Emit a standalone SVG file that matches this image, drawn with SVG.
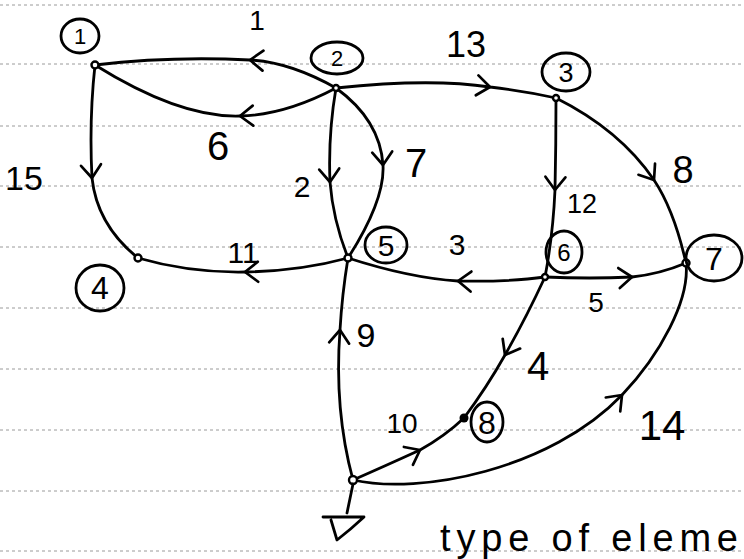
<svg xmlns="http://www.w3.org/2000/svg" width="744" height="559" viewBox="0 0 744 559">
<style>
.rule{stroke:#9a9a9a;stroke-width:1;stroke-dasharray:3 3;fill:none}
.edge{stroke:#000;stroke-width:2.8;fill:none;stroke-linecap:round;marker-mid:url(#chev)}
.ring{stroke:#000;stroke-width:2.8;fill:none}
.dot{stroke:#000;stroke-width:2.4;fill:#fff}
.num{font-family:"Liberation Sans",Arial,sans-serif;fill:#000;text-anchor:middle}
.lbl{font-family:"Liberation Sans",Arial,sans-serif;fill:#000;text-anchor:middle}
.gnd{stroke:#000;stroke-width:2.8;fill:none;stroke-linecap:round;stroke-linejoin:round}
</style>
<defs>
<marker id="chev" viewBox="-18 -14 22 28" refX="0" refY="0" markerWidth="22" markerHeight="28" markerUnits="userSpaceOnUse" orient="auto">
<path d="M-13,-10 L0,0 L-13,10" fill="none" stroke="#000" stroke-width="2.7" stroke-linecap="round" stroke-linejoin="round"/>
</marker>
</defs>
<rect width="744" height="559" fill="#fff"/>
<g id="ruled-lines">
<line class="rule" x1="0" y1="5" x2="744" y2="5"/>
<line class="rule" x1="0" y1="64" x2="744" y2="64"/>
<line class="rule" x1="0" y1="126" x2="744" y2="126"/>
<line class="rule" x1="0" y1="186" x2="744" y2="186"/>
<line class="rule" x1="0" y1="247" x2="744" y2="247"/>
<line class="rule" x1="0" y1="308" x2="744" y2="308"/>
<line class="rule" x1="0" y1="369" x2="744" y2="369"/>
<line class="rule" x1="0" y1="430" x2="744" y2="430"/>
<line class="rule" x1="0" y1="491" x2="744" y2="491"/>
<line class="rule" x1="0" y1="551" x2="744" y2="551"/>
</g>
<g id="connectors">
<path id="e1" class="edge" d="M336,88 Q290,62 250,60 Q170,56 95,65"/>
<path id="e6" class="edge" d="M336,88 Q285,115 240,116 Q180,118 95,65"/>
<path id="e13" class="edge" d="M336,88 Q430,78 490,87 Q525,91 556,98"/>
<path id="e15" class="edge" d="M95,65 Q89,120 92,178 Q97,225 138,258"/>
<path id="e2" class="edge" d="M336,88 Q328,135 330,182 Q333,220 348,258"/>
<path id="e7" class="edge" d="M336,88 Q380,120 383,165 Q385,200 348,258"/>
<path id="e11" class="edge" d="M348,258 Q300,271 245,272 Q190,273 138,258"/>
<path id="e12" class="edge" d="M556,98 Q556,145 555,190 Q553,235 545,277"/>
<path id="e8" class="edge" d="M556,98 Q620,130 654,180 Q674,210 686,263"/>
<path id="e3" class="edge" d="M545,277 Q510,282 458,281 Q410,278 348,258"/>
<path id="e5" class="edge" d="M545,277 Q590,279 632,277 Q660,274 686,263"/>
<path id="e4" class="edge" d="M545,277 Q526,318 505,355 Q487,387 464,418"/>
<path id="e9" class="edge" d="M353,480 Q334,410 340,330 Q342,295 348,258"/>
<path id="e10" class="edge" d="M353,480 Q385,466 420,450 Q445,436 464,418"/>
<path id="e14" class="edge" d="M353,480 C420,495 550,470 622,395 C660,355 690,300 686,263"/>
<text class="lbl" x="257" y="30" font-size="28">1</text>
<text class="lbl" x="218" y="160" font-size="40">6</text>
<text class="lbl" x="24" y="190" font-size="34">15</text>
<text class="lbl" x="302" y="197" font-size="30">2</text>
<text class="lbl" x="243" y="263" font-size="30">11</text>
<text class="lbl" x="466" y="57" font-size="36">13</text>
<text class="lbl" x="416" y="177" font-size="40">7</text>
<text class="lbl" x="582" y="213" font-size="27">12</text>
<text class="lbl" x="683" y="183" font-size="38">8</text>
<text class="lbl" x="457" y="255" font-size="30">3</text>
<text class="lbl" x="596" y="312" font-size="28">5</text>
<text class="lbl" x="538" y="380" font-size="40">4</text>
<text class="lbl" x="366" y="347" font-size="34">9</text>
<text class="lbl" x="402" y="433" font-size="28">10</text>
<text class="lbl" x="662" y="440" font-size="42">14</text>
</g>
<g id="node1"><circle class="dot" cx="95" cy="65" r="3.5"/><ellipse class="ring" cx="80" cy="36" rx="19" ry="17"/><text class="num" x="80" y="44" font-size="22">1</text></g>
<g id="node2"><circle class="dot" cx="336" cy="88" r="3"/><ellipse class="ring" cx="337" cy="58" rx="26" ry="16"/><text class="num" x="337" y="66" font-size="22">2</text></g>
<g id="node3"><circle class="dot" cx="556" cy="98" r="3"/><ellipse class="ring" cx="566" cy="72" rx="24" ry="19"/><text class="num" x="566" y="82" font-size="27">3</text></g>
<g id="node4"><circle class="dot" cx="138" cy="258" r="3.5"/><ellipse class="ring" cx="100" cy="288" rx="24" ry="23"/><text class="num" x="100" y="299" font-size="32">4</text></g>
<g id="node5"><circle class="dot" cx="348" cy="258" r="3.5"/><ellipse class="ring" cx="386" cy="245" rx="21" ry="18"/><text class="num" x="386" y="256" font-size="30">5</text></g>
<g id="node6"><circle class="dot" cx="545" cy="277" r="3"/><ellipse class="ring" cx="564" cy="252" rx="18" ry="21"/><text class="num" x="564" y="261" font-size="24">6</text></g>
<g id="node7"><circle class="dot" cx="686" cy="263" r="3.5"/><ellipse class="ring" cx="714" cy="258" rx="28" ry="23"/><text class="num" x="714" y="270" font-size="32">7</text></g>
<g id="node8"><circle cx="464" cy="418" r="4.5" fill="#000"/><ellipse class="ring" cx="487" cy="422" rx="16" ry="20"/><text class="num" x="487" y="434" font-size="32">8</text></g>
<g id="ground"><circle class="dot" cx="353" cy="480" r="4"/><path class="gnd" d="M353,484 L347,513 M323,517 L364,517 Q350,530 337,540 L331,520"/></g>
<text x="440" y="551" font-family="Liberation Sans,Arial,sans-serif" font-size="38" textLength="298" lengthAdjust="spacing">type of eleme</text>
</svg>
